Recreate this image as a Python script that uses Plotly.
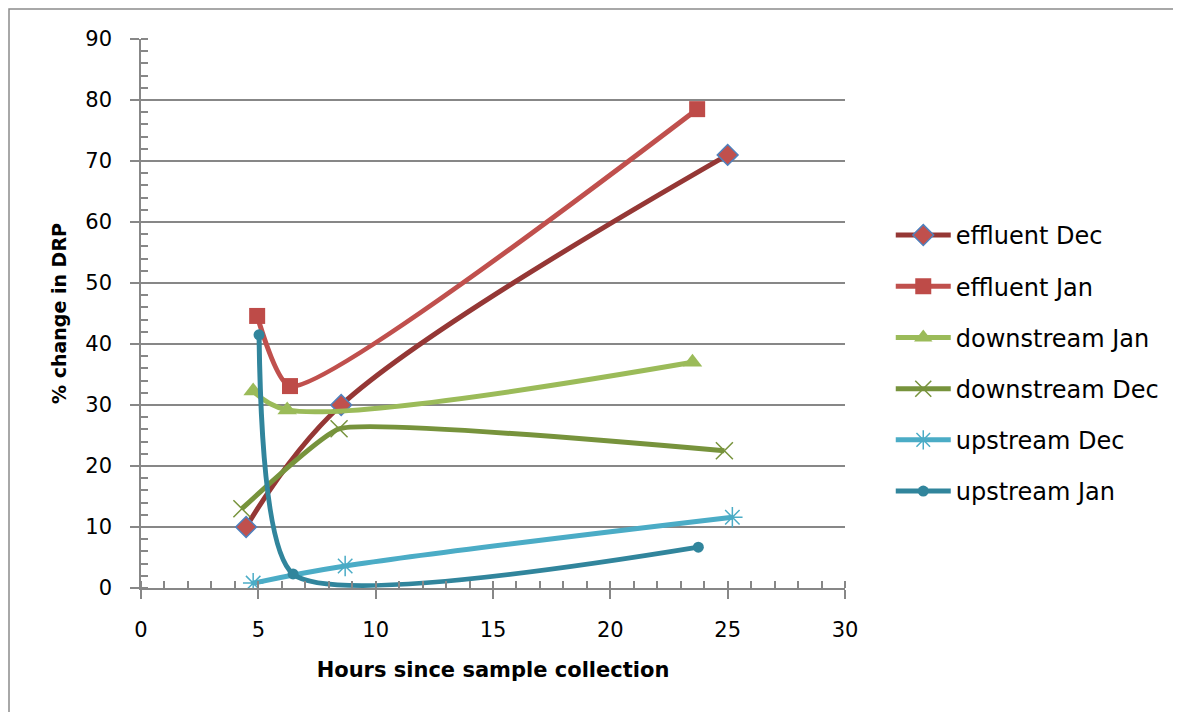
import plotly.graph_objects as go

# Data
eff_dec_x = [4.48, 8.53, 25.0]
eff_dec_y = [10.0, 30.0, 71.0]
eff_jan_x = [4.95, 6.35, 23.7]
eff_jan_y = [44.6, 33.1, 78.5]
down_jan_x = [4.78, 6.23, 23.5]
down_jan_y = [32.3, 29.2, 37.0]
down_dec_x = [4.3, 8.44, 24.86]
down_dec_y = [13.0, 26.1, 22.5]
up_dec_x = [4.78, 8.7, 25.2]
up_dec_y = [0.8, 3.6, 11.6]
up_jan_x = [5.03, 6.48, 23.75]
up_jan_y = [41.5, 2.3, 6.7]

series = [
    ("effluent Dec", eff_dec_x, eff_dec_y, "#953735", 1.0,
     dict(symbol="diamond", size=16, color="#C0504D", line=dict(color="#4F81BD", width=1.5))),
    ("effluent Jan", eff_jan_x, eff_jan_y, "#C0504D", 0.55,
     dict(symbol="square", size=16, color="#BE4B48", line=dict(color="#BE4B48", width=0))),
    ("downstream Jan", down_jan_x, down_jan_y, "#9BBB59", 1.0,
     dict(symbol="triangle-up", size=17, color="#9BBB59", line=dict(width=0))),
    ("downstream Dec", down_dec_x, down_dec_y, "#77933C", 0.35,
     dict(symbol="x-thin-open", size=17, color="#77933C", line=dict(color="#77933C", width=1.5))),
    ("upstream Dec", up_dec_x, up_dec_y, "#4BACC6", 1.0,
     dict(symbol="asterisk-open", size=17, color="#4BACC6", line=dict(color="#4BACC6", width=1.5))),
    ("upstream Jan", up_jan_x, up_jan_y, "#31859C", 0.6,
     dict(symbol="circle", size=11, color="#31859C", line=dict(width=0))),
]

fig = go.Figure()
for i, (name, xs, ys, col, sm, mk) in enumerate(series):
    fig.add_trace(go.Scatter(
        x=xs, y=ys, name=name, mode="lines+markers",
        line=dict(color=col, width=5, shape="spline", smoothing=sm),
        marker=mk, legendgroup=f"g{i}",
    ))

FONT = "'DejaVu Sans', sans-serif"
GRAY = "#878787"
# page has an 8px body margin: figure is 8px smaller and left/top margins shifted by 8px
fig.update_layout(
    width=1173, height=704,
    margin=dict(l=133, r=336, t=31, b=124),
    paper_bgcolor="white", plot_bgcolor="white",
    font=dict(family=FONT, size=21, color="black"),
    showlegend=True,
    legend=dict(x=1.065, y=0.409, xanchor="left", yanchor="middle",
                font=dict(size=24, family=FONT), tracegroupgap=17,
                bgcolor="rgba(0,0,0,0)", itemwidth=55),
    xaxis=dict(
        range=[0, 30], dtick=5, tick0=0, showgrid=False, zeroline=False,
        showline=True, linecolor=GRAY, linewidth=1.5, automargin=False,
        ticks="outside", ticklen=9, tickcolor=GRAY, tickwidth=1.5,
        tickfont=dict(size=21), ticklabelstandoff=13,
        minor=dict(dtick=1, ticks="inside", ticklen=7, tickcolor=GRAY, tickwidth=1.5, showgrid=False),
        title=dict(text="<b>Hours since sample collection</b>", font=dict(size=21), standoff=21),
    ),
    yaxis=dict(
        range=[0, 90], dtick=10, tick0=0, showgrid=True, gridcolor=GRAY, gridwidth=1.5,
        zeroline=False, showline=True, linecolor=GRAY, linewidth=1.5, automargin=False,
        ticks="outside", ticklen=9, tickcolor=GRAY, tickwidth=1.5,
        tickfont=dict(size=21), ticklabelstandoff=14,
        minor=dict(dtick=2, ticks="inside", ticklen=7, tickcolor=GRAY, tickwidth=1.5, showgrid=False),
        title=dict(text="<b>% change in DRP</b>", font=dict(size=19), standoff=14),
    ),
    shapes=[dict(type="rect", xref="paper", yref="paper",
                 x0=-0.1875, x1=1.5, y0=-0.3, y1=1.0546,
                 line=dict(color="#8C8C8C", width=1.5), fillcolor="rgba(0,0,0,0)", layer="below")],
)

fig.write_html("out.html")
